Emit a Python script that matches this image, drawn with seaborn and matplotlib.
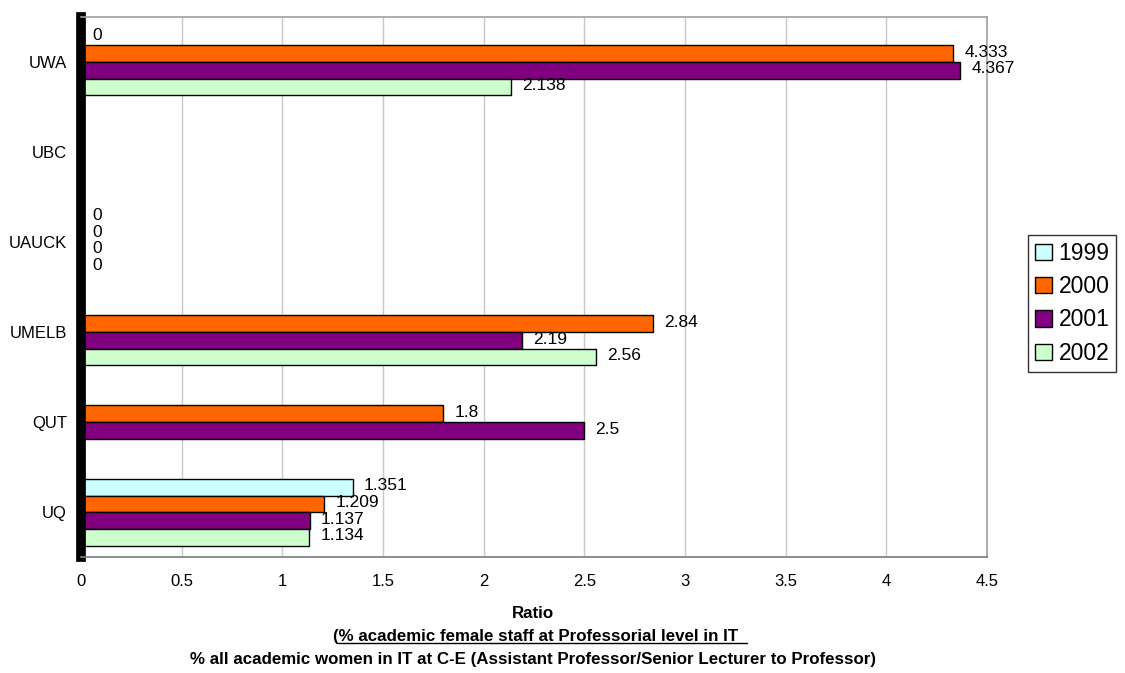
import numpy as np
import pandas as pd
import matplotlib
matplotlib.use("Agg")
import matplotlib.pyplot as plt
from matplotlib.patches import Patch
from matplotlib import font_manager
import seaborn as sns

# ---- data ----
categories = ["UWA", "UBC", "UAUCK", "UMELB", "QUT", "UQ"]
years = ["1999", "2000", "2001", "2002"]
v1999 = [0.0, None, 0.0, 0.0, None, 1.351]
v2000 = [4.333, None, 0.0, 2.84, 1.8, 1.209]
v2001 = [4.367, None, 0.0, 2.19, 2.5, 1.137]
v2002 = [2.138, None, 0.0, 2.56, 0.0, 1.134]
# data labels shown in the chart ('' = no label)
lab1999 = ["0", "", "0", "", "", "1.351"]
lab2000 = ["4.333", "", "0", "2.84", "1.8", "1.209"]
lab2001 = ["4.367", "", "0", "2.19", "2.5", "1.137"]
lab2002 = ["2.138", "", "0", "2.56", "", "1.134"]
colors = ["#CCFFFF", "#FF6600", "#800080", "#CCFFCC"]
xticks = [0, 0.5, 1, 1.5, 2, 2.5, 3, 3.5, 4, 4.5]

series = {"1999": v1999, "2000": v2000, "2001": v2001, "2002": v2002}
labels = {"1999": lab1999, "2000": lab2000, "2001": lab2001, "2002": lab2002}
rows = []
for y in years:
    for c, v in zip(categories, series[y]):
        if v is not None:
            rows.append({"Uni": c, "Year": y, "Ratio": v})
df = pd.DataFrame(rows)

sns.set_theme(style="white")
avail = {f.name for f in font_manager.fontManager.ttflist}
base_font = "Liberation Sans" if "Liberation Sans" in avail else "DejaVu Sans"
narrow_font = "Liberation Sans Narrow" if "Liberation Sans Narrow" in avail else base_font
plt.rcParams["font.family"] = [base_font, "DejaVu Sans"]
plt.rcParams["text.color"] = "black"
plt.rcParams["xtick.color"] = "black"
plt.rcParams["ytick.color"] = "black"
plt.rcParams["axes.labelcolor"] = "black"

fig = plt.figure(figsize=(11.25, 6.73), dpi=100)
ax = fig.add_axes([0.072, 0.172, 0.8053, 0.803])

sns.barplot(data=df, y="Uni", x="Ratio", hue="Year", order=categories,
            hue_order=years, palette=colors, saturation=1, orient="h", width=0.74,
            errorbar=None, edgecolor="black", linewidth=1.0, ax=ax,
            legend=False)

ax.set_xlim(0, 4.5)
ax.set_ylim(len(categories) - 0.5, -0.5)
ax.set_xticks(xticks)
ax.set_xticklabels([f"{t:g}" for t in xticks], fontsize=12)
ax.xaxis.grid(True, color="#C8C8C8", linewidth=1.0)
ax.set_axisbelow(True)

# y ticks: labels at centers, tick marks at boundaries
ax.set_yticks(range(len(categories)))
ax.set_yticklabels(categories, fontsize=12)
ax.tick_params(axis="y", length=0, pad=10)
ax.set_yticks(np.arange(-0.5, len(categories), 1), minor=True)
ax.tick_params(axis="y", which="minor", length=8, width=1, color="#404040", direction="out")
ax.tick_params(axis="x", length=6, width=1, color="#808080", direction="out", pad=6)

for side in ["top", "right"]:
    ax.spines[side].set_color("#A0A0A0")
    ax.spines[side].set_linewidth(1.2)
ax.spines["bottom"].set_color("#808080")
ax.spines["left"].set_color("black")
ax.spines["left"].set_linewidth(7)

# data labels
for y, cont in zip(years, ax.containers):
    for bar in cont:
        idx = int(round(bar.get_y() + bar.get_height() / 2))
        txt = labels[y][idx]
        if txt:
            ax.annotate(txt, (bar.get_width(), bar.get_y() + bar.get_height() / 2),
                        xytext=(8, 1), textcoords="offset points",
                        va="center", ha="left", fontsize=12.5, color="black")

ax.set_ylabel("")
ax.set_xlabel("")

# legend
handles = [Patch(facecolor=c, edgecolor="black", linewidth=1, label=y) for c, y in zip(colors, years)]
leg = fig.legend(handles=handles, loc="upper left", bbox_to_anchor=(0.914, 0.651),
                 bbox_transform=fig.transFigure, frameon=True, fancybox=False,
                 fontsize=16.5, handlelength=0.72, handleheight=0.72, handletextpad=0.3,
                 labelspacing=0.45, borderpad=0.3, borderaxespad=0)
leg.get_frame().set_edgecolor("black")
leg.get_frame().set_linewidth(1.0)

# axis title (three lines, second underlined)
W, H = fig.get_size_inches() * fig.dpi
cx = 533 / W
cx2 = 540 / W
fkw = dict(family=[narrow_font, "DejaVu Sans"], fontweight="bold", fontsize=12.2, ha="center", va="baseline")
fig.text(cx, 1 - 618 / 673, "Ratio", **fkw)
line2 = "(% academic female staff at Professorial level in IT  "
t2 = fig.text(cx2, 1 - 641 / 673, line2, **fkw)
fig.text(cx, 1 - 664 / 673, "% all academic women in IT at C-E (Assistant Professor/Senior Lecturer to Professor)", **fkw)

fig.canvas.draw()
r = fig.canvas.get_renderer()
bb = t2.get_window_extent(r)
tmp = fig.text(0, 0, "(", **fkw)
pw = tmp.get_window_extent(r).width
tmp.remove()
uy = (bb.y0 + 1.5) / H
fig.add_artist(plt.Line2D([(bb.x0 + pw) / W, bb.x1 / W], [uy, uy],
                          transform=fig.transFigure, color="black", linewidth=1.0))

fig.savefig("out.png", dpi=100)
